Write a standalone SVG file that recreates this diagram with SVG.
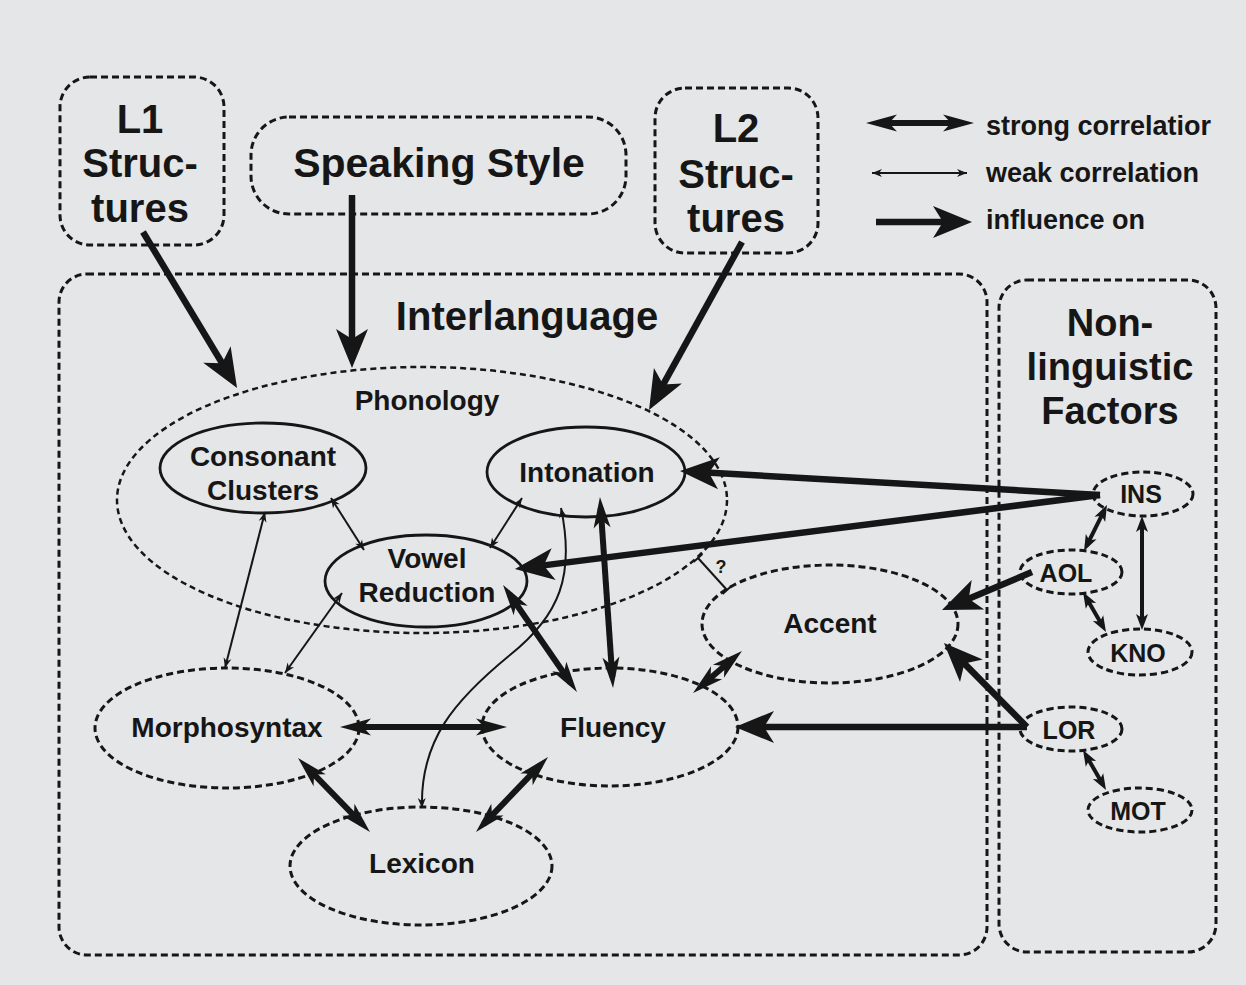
<svg xmlns="http://www.w3.org/2000/svg" width="1246" height="985" viewBox="0 0 1246 985">
<style>
text{font-family:"Liberation Sans",Arial,sans-serif;font-weight:bold;fill:#161616;text-anchor:middle}
.box{fill:none;stroke:#161616;stroke-width:3;stroke-dasharray:7 4}
.dash{fill:none;stroke:#161616;stroke-width:3;stroke-dasharray:7 4}
.thin{fill:none;stroke:#161616;stroke-width:2.5;stroke-dasharray:6 4}
.solid{fill:none;stroke:#161616;stroke-width:2.8}
.inf{fill:none;stroke:#161616;stroke-width:6.5;marker-end:url(#hInf)}
.str{fill:none;stroke:#161616;stroke-width:6;marker-start:url(#hStr);marker-end:url(#hStr)}
.strs{fill:none;stroke:#161616;stroke-width:4;marker-start:url(#hStrS);marker-end:url(#hStrS)}
.weak{fill:none;stroke:#161616;stroke-width:2;marker-start:url(#hWeak);marker-end:url(#hWeak)}
.tick{fill:none;stroke:#161616;stroke-width:2;marker-start:url(#hTick);marker-end:url(#hTick)}
.big{font-size:40px}
.mid{font-size:28px}
.sm{font-size:25px}
.leg{font-size:27px;text-anchor:start}
</style>
<defs>
<marker id="hInf" markerUnits="userSpaceOnUse" viewBox="-40 -17 50 34" refX="0" refY="0" markerWidth="50" markerHeight="34" orient="auto" overflow="visible">
<path d="M9,0 L-30,-16 L-20,0 L-30,16 Z" fill="#161616"/>
</marker>
<marker id="hStr" markerUnits="userSpaceOnUse" viewBox="-30 -10 45 20" refX="0" refY="0" markerWidth="45" markerHeight="20" orient="auto-start-reverse" overflow="visible">
<path d="M11,0 L-20,-8.5 L-12,0 L-20,8.5 Z" fill="#161616"/>
</marker>
<marker id="hStrS" markerUnits="userSpaceOnUse" viewBox="-16 -8 24 16" refX="0" refY="0" markerWidth="24" markerHeight="16" orient="auto-start-reverse" overflow="visible">
<path d="M6,0 L-10,-6 L-6,0 L-10,6 Z" fill="#161616"/>
</marker>
<marker id="hWeak" markerUnits="userSpaceOnUse" viewBox="-12 -6 14 12" refX="0" refY="0" markerWidth="14" markerHeight="12" orient="auto-start-reverse" overflow="visible">
<path d="M0,0 L-10,-4 L-7,0 L-10,4 Z" fill="#161616"/>
</marker>
<marker id="hTick" markerUnits="userSpaceOnUse" viewBox="-4 -8 8 16" refX="0" refY="0" markerWidth="8" markerHeight="16" orient="auto-start-reverse" overflow="visible">
<path d="M0,-6 L0,6" stroke="#161616" stroke-width="2"/>
</marker>
</defs>
<rect width="1246" height="985" fill="#e4e6e7"/>

<g id="l1">
<rect class="box" x="60" y="77" width="164" height="168" rx="30"/>
<text class="big" x="140" y="133">L1</text>
<text class="big" x="140" y="177">Struc-</text>
<text class="big" x="140" y="222">tures</text>
</g>
<g id="speaking-style">
<rect class="box" x="251" y="117" width="375" height="97" rx="38"/>
<text x="439" y="177" style="font-size:41px">Speaking Style</text>
</g>
<g id="l2">
<rect class="box" x="655" y="88" width="163" height="165" rx="30"/>
<text class="big" x="736" y="142">L2</text>
<text class="big" x="736" y="188">Struc-</text>
<text class="big" x="736" y="232">tures</text>
</g>

<g id="legend">
<path class="str" d="M877,123 L963,123"/>
<text class="leg" x="986" y="135">strong correlatior</text>
<path class="weak" d="M872,173 L967,173"/>
<text class="leg" x="986" y="182">weak correlation</text>
<path class="inf" d="M876,222 L963,222"/>
<text class="leg" x="986" y="229">influence on</text>
</g>

<g id="interlanguage">
<rect class="box" x="59" y="274" width="928" height="681" rx="28"/>
<text class="big" x="527" y="330">Interlanguage</text>
</g>
<g id="non-linguistic">
<rect class="box" x="999" y="280" width="217" height="672" rx="28"/>
<text x="1110" y="336" style="font-size:38px">Non-</text>
<text x="1110" y="380" style="font-size:38px">linguistic</text>
<text x="1110" y="424" style="font-size:38px">Factors</text>
</g>

<g id="phonology">
<ellipse class="thin" cx="422" cy="500" rx="305" ry="133"/>
<text class="mid" x="427" y="410">Phonology</text>
</g>
<g id="consonant-clusters">
<ellipse class="solid" cx="263" cy="468" rx="103" ry="45"/>
<text class="mid" x="263" y="466">Consonant</text>
<text class="mid" x="263" y="500">Clusters</text>
</g>
<g id="intonation">
<ellipse class="solid" cx="586" cy="472" rx="99" ry="45"/>
<text class="mid" x="587" y="482">Intonation</text>
</g>
<g id="vowel-reduction">
<ellipse class="solid" cx="426" cy="581" rx="101" ry="46"/>
<text class="mid" x="427" y="568">Vowel</text>
<text class="mid" x="427" y="602">Reduction</text>
</g>
<g id="morphosyntax">
<ellipse class="dash" cx="227" cy="728" rx="132" ry="60"/>
<text class="mid" x="227" y="737">Morphosyntax</text>
</g>
<g id="fluency">
<ellipse class="dash" cx="610" cy="727" rx="128" ry="59"/>
<text class="mid" x="613" y="737">Fluency</text>
</g>
<g id="lexicon">
<ellipse class="dash" cx="421" cy="866" rx="131" ry="59"/>
<text class="mid" x="422" y="873">Lexicon</text>
</g>
<g id="accent">
<ellipse class="dash" cx="830" cy="624" rx="128" ry="59"/>
<text class="mid" x="830" y="633">Accent</text>
</g>
<g id="ins">
<ellipse class="dash" cx="1143" cy="494" rx="50" ry="22"/>
<text class="sm" x="1141" y="503">INS</text>
</g>
<g id="aol">
<ellipse class="dash" cx="1071" cy="572" rx="51" ry="22"/>
<text class="sm" x="1066" y="582">AOL</text>
</g>
<g id="kno">
<ellipse class="dash" cx="1140" cy="652" rx="52" ry="23"/>
<text class="sm" x="1138" y="662">KNO</text>
</g>
<g id="lor">
<ellipse class="dash" cx="1071" cy="729" rx="51" ry="22"/>
<text class="sm" x="1069" y="739">LOR</text>
</g>
<g id="mot">
<ellipse class="dash" cx="1140" cy="810" rx="52" ry="22"/>
<text class="sm" x="1138" y="820">MOT</text>
</g>

<g id="connectors">
<path class="inf" d="M143,232 L232.4,380.3"/>
<path class="inf" d="M352,195 L352,359"/>
<path class="inf" d="M742,242 L653.4,402.1"/>
<path class="inf" d="M1100,495 L689,471.5"/>
<path class="inf" d="M1100,495 L523.9,567.9"/>
<path class="inf" d="M1032,572 L950.3,606.5"/>
<path class="inf" d="M1027,727 L950.3,649.4"/>
<path class="inf" d="M1027,727 L744,727"/>
<path class="strs" d="M1104.3,510.4 L1086.7,545.6"/>
<path class="strs" d="M1142,522 L1142,624"/>
<path class="strs" d="M1086,597.2 L1103,626.8"/>
<path class="strs" d="M1086,755.2 L1103,784.8"/>
<path class="str" d="M701.4,685.8 L733.6,658.2"/>
<path class="str" d="M600.7,508 L612.3,677"/>
<path class="str" d="M509.3,594 L570.7,683"/>
<path class="str" d="M351,727 L496,727"/>
<path class="str" d="M305.7,765.9 L362.3,824.1"/>
<path class="str" d="M483.6,824.1 L540.4,764.9"/>
<path class="weak" d="M331,498 L364,550"/>
<path class="weak" d="M265,512 L225,668"/>
<path class="weak" d="M342,593 L285,673"/>
<path class="weak" d="M522,498 L490,548"/>
<path class="weak" d="M561,508 C575,575 560,615 510,655 C455,700 420,740 422,808"/>
<path class="tick" d="M698,558 L727,590"/>
<text x="721" y="573" style="font-size:18px">?</text>
</g>
</svg>
